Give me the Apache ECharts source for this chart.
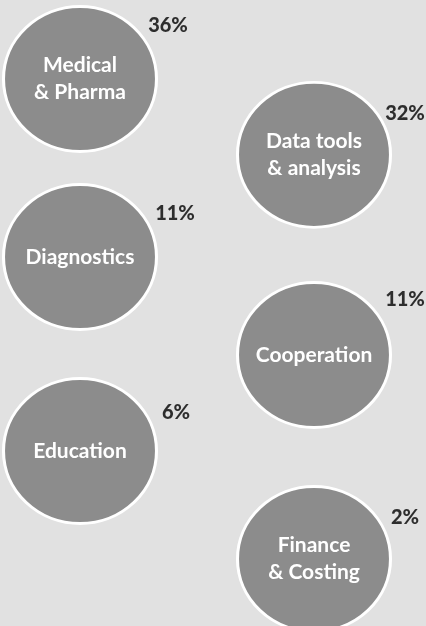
<!DOCTYPE html>
<html>
<head>
<meta charset="utf-8">
<script src="https://cdn.jsdelivr.net/npm/echarts@6/dist/echarts.min.js"></script>
<style>
	html, body { margin: 0; padding: 0; background: #e1e1e1; }
	#chart { width: 426px; height: 626px; }
</style>
</head>
<body>
<div id="chart"></div>
<script>
	// 分类及占比
	var categories = ['Medical\n& Pharma', 'Data tools\n& analysis', 'Diagnostics', 'Cooperation', 'Education', 'Finance\n& Costing'];
	var shares = [36, 32, 11, 11, 6, 2];
	// 气泡所在列(0左 1右)和纵向位置(0..100)
	var column = [0, 1, 0, 1, 0, 1];
	var row = [0, 15.8, 37.1, 57.5, 77.5, 100];
	// 百分比标签相对气泡中心的偏移
	var pctShiftX = [88, 91, 95, 91, 96, 91];
	var pctShiftY = [-53, -41, -44, -55, -38, -41];

	var myChart = echarts.init(document.getElementById('chart'));

	var points = [], pctPoints = [];
	for (var i = 0; i < categories.length; i++) {
		points.push({ name: categories[i], value: [column[i], row[i], shares[i]] });
		pctPoints.push({
			name: categories[i],
			value: [column[i], row[i], shares[i]],
			label: { offset: [pctShiftX[i], pctShiftY[i]] }
		});
	}

	var option = {
		backgroundColor: '#e1e1e1',
		animation: false,
		grid: { left: 80, right: 112, top: 79, bottom: 67 },
		xAxis: { type: 'value', min: 0, max: 1, show: false },
		yAxis: { type: 'value', min: 0, max: 100, inverse: true, show: false },
		series: [{
			type: 'scatter',
			data: points,
			symbol: 'circle',
			symbolSize: [153, 145],
			itemStyle: {
				color: '#8c8c8c',
				borderColor: '#ffffff',
				borderWidth: 3,
				opacity: 1
			},
			label: {
				show: true,
				position: 'inside',
				formatter: '{b}',
				color: '#ffffff',
				fontFamily: 'Lato',
				fontWeight: 'bold',
				fontSize: 21,
				lineHeight: 27
			}
		}, {
			// 百分比标签
			type: 'scatter',
			data: pctPoints,
			symbolSize: 1,
			itemStyle: { color: 'transparent' },
			label: {
				show: true,
				position: 'inside',
				formatter: function (p) { return p.value[2] + '%'; },
				color: '#000000',
				fontFamily: 'Lato',
				fontWeight: 900,
				fontSize: 20
			}
		}]
	};
	myChart.setOption(option);
</script>
</body>
</html>
